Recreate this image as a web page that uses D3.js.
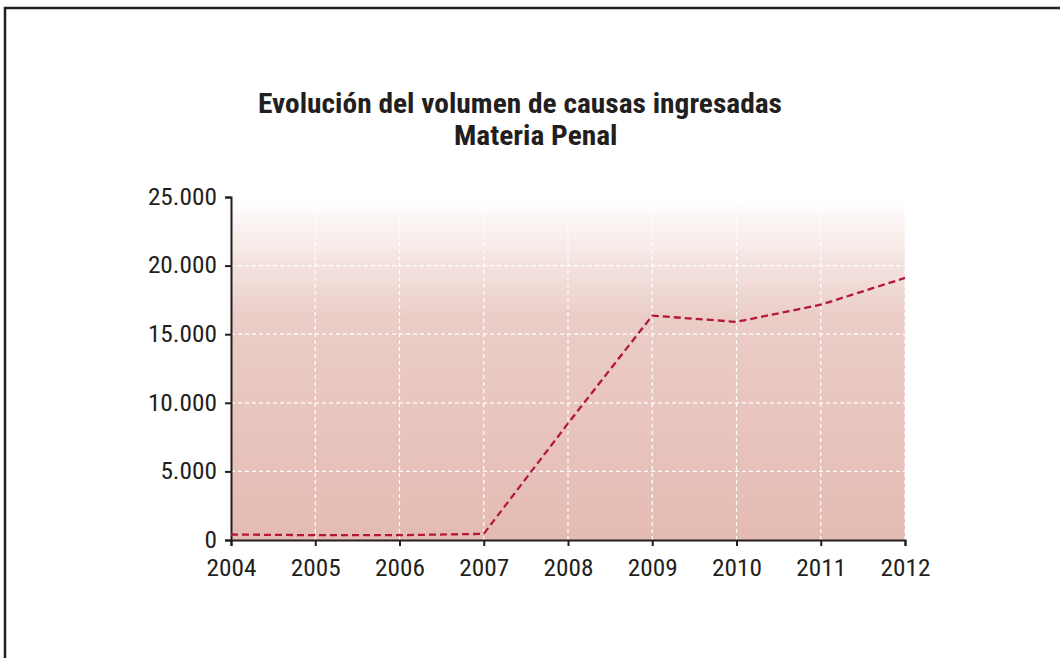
<!DOCTYPE html>
<html>
<head>
<meta charset="utf-8">
<script src="https://cdn.jsdelivr.net/npm/d3@7"></script>
<style>
  body { margin: 0; background: #fff; }
  svg { display: block; }
  text { font-family: "Roboto Condensed", "Liberation Sans Narrow", sans-serif; fill: #231f20; }
</style>
</head>
<body>
<div id="chart"></div>
<script>
var years = [2004, 2005, 2006, 2007, 2008, 2009, 2010, 2011, 2012];
var causas = [400, 350, 350, 450, 8500, 16350, 15900, 17150, 19100];
var yTicks = [0, 5000, 10000, 15000, 20000, 25000];
var titleLines = ["Evolución del volumen de causas ingresadas", "Materia Penal"];

var W = 1060, H = 658;
var margin = { left: 231, right: 155, top: 197, bottom: 118 };

var svg = d3.select("#chart").append("svg")
    .attr("width", W)
    .attr("height", H);

// frame (top + left only visible)
svg.append("path")
    .attr("d", "M5,660 L5,8 L1062,8")
    .attr("fill", "none")
    .attr("stroke", "#231f20")
    .attr("stroke-width", 2.5);

var x = d3.scaleLinear()
    .domain([years[0], years[years.length - 1]])
    .range([margin.left, W - margin.right]);

var y = d3.scaleLinear()
    .domain([0, 25000])
    .range([H - margin.bottom, margin.top]);

var defs = svg.append("defs");
var grad = defs.append("linearGradient")
    .attr("id", "bg")
    .attr("x1", 0).attr("y1", 0).attr("x2", 0).attr("y2", 1);
grad.append("stop").attr("offset", "0%").attr("stop-color", "#ffffff");
grad.append("stop").attr("offset", "35%").attr("stop-color", "#ebcdc7");
grad.append("stop").attr("offset", "100%").attr("stop-color", "#e4bbb3");

svg.append("rect")
    .attr("x", x.range()[0])
    .attr("y", y(25000))
    .attr("width", x.range()[1] - x.range()[0])
    .attr("height", y(0) - y(25000))
    .attr("fill", "url(#bg)");

// grid
svg.append("g").selectAll("line")
    .data(years.slice(1))
    .join("line")
    .attr("x1", function (d) { return x(d); })
    .attr("x2", function (d) { return x(d); })
    .attr("y1", y(0))
    .attr("y2", y(25000))
    .attr("stroke", "#ffffff")
    .attr("stroke-width", 1.2)
    .attr("stroke-dasharray", "4,3");

svg.append("g").selectAll("line")
    .data(yTicks.slice(1, -1))
    .join("line")
    .attr("x1", x.range()[0])
    .attr("x2", x.range()[1])
    .attr("y1", function (d) { return y(d); })
    .attr("y2", function (d) { return y(d); })
    .attr("stroke", "#ffffff")
    .attr("stroke-width", 1.2)
    .attr("stroke-dasharray", "4,3");

// axes
var fmt = function (d) { return d3.format(",")(d).replace(/,/g, "."); };

var yAxis = svg.append("g")
    .attr("transform", "translate(" + margin.left + ",0)")
    .call(d3.axisLeft(y).tickValues(yTicks).tickFormat(fmt).tickSizeOuter(0).tickSize(6).tickPadding(8));

var xAxis = svg.append("g")
    .attr("transform", "translate(0," + y(0) + ")")
    .call(d3.axisBottom(x).tickValues(years).tickFormat(d3.format("d")).tickSizeOuter(0).tickSize(6).tickPadding(12));

[yAxis, xAxis].forEach(function (a) {
    a.attr("font-family", null);
    a.select(".domain").attr("stroke", "#231f20").attr("stroke-width", 2);
    a.selectAll(".tick line").attr("stroke", "#231f20").attr("stroke-width", 2);
    a.selectAll(".tick text")
        .attr("font-size", 23)
        .attr("fill", "#231f20")
        .each(function () {
            var len = this.getComputedTextLength();
            d3.select(this).attr("textLength", len * 1.1).attr("lengthAdjust", "spacingAndGlyphs");
        });
});
xAxis.selectAll(".tick text").attr("dy", "0.8em");

// line
var line = d3.line()
    .x(function (d, i) { return x(years[i]); })
    .y(function (d) { return y(d); });

svg.append("path")
    .datum(causas)
    .attr("d", line)
    .attr("fill", "none")
    .attr("stroke", "#b3173b")
    .attr("stroke-width", 2.3)
    .attr("stroke-dasharray", "7,4");

// title
var t1 = svg.append("text")
    .attr("x", 258)
    .attr("y", 113)
    .attr("font-size", 27)
    .attr("font-weight", "bold")
    .text(titleLines[0]);
var ratio = 524 / t1.node().getComputedTextLength();
t1.attr("textLength", 524).attr("lengthAdjust", "spacingAndGlyphs");

var t2 = svg.append("text")
    .attr("x", 454)
    .attr("y", 145)
    .attr("font-size", 27)
    .attr("font-weight", "bold")
    .text(titleLines[1]);
t2.attr("textLength", t2.node().getComputedTextLength() * ratio).attr("lengthAdjust", "spacingAndGlyphs");
</script>
</body>
</html>
